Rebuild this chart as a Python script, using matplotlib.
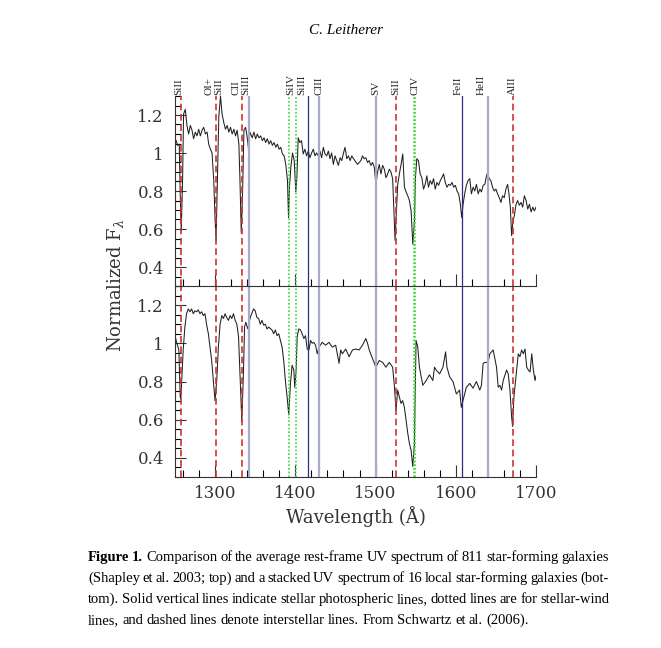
import matplotlib
matplotlib.use("Agg")
import matplotlib.pyplot as plt
from matplotlib.ticker import MultipleLocator, FuncFormatter
from matplotlib.transforms import blended_transform_factory

# --- average spectrum of 811 star-forming galaxies (top panel) ---
wave_top = [1250, 1251.5, 1253.2, 1255.3, 1256.5, 1257.8, 1259.5, 1260.7, 1262.8, 1264.9,
            1267, 1269.1, 1271.2, 1273.2, 1275.3, 1277.4, 1279.5, 1281.6, 1283.7, 1285.8,
            1287.9, 1290, 1292, 1294.1, 1296.2, 1298.3, 1300, 1301.2, 1302.9, 1304.6,
            1306.7, 1308.7, 1310.8, 1312.9, 1315, 1317.1, 1319.2, 1321.3, 1323.4, 1325.5,
            1327.5, 1329.6, 1330.9, 1332.6, 1334.2, 1335.9, 1338, 1340.1, 1341.7, 1343.4,
            1346.3, 1348.4, 1350.5, 1352.6, 1354.7, 1356.8, 1358.9, 1361, 1363, 1365.1,
            1367.2, 1369.3, 1371.4, 1373.5, 1375.6, 1377.7, 1379.8, 1381.8, 1383.9, 1386,
            1388.1, 1390.2, 1391.5, 1392.7, 1394.4, 1396.5, 1398.6, 1400.6, 1401.9, 1403.6,
            1405.7, 1407.7, 1409.8, 1411.9, 1414, 1416.1, 1418.2, 1420.3, 1422.4, 1424.5,
            1426.5, 1428.6, 1430.7, 1432.8, 1434.9, 1437, 1439.1, 1441.2, 1443.2, 1445.3,
            1447.4, 1449.5, 1451.6, 1453.7, 1455.8, 1457.9, 1460, 1462, 1464.1, 1466.2,
            1468.3, 1470.4, 1472.5, 1477.5, 1481.7, 1483.7, 1485.8, 1487.9, 1490, 1492.1,
            1494.2, 1496.3, 1498.4, 1500.5, 1502.5, 1504.6, 1506.7, 1508.8, 1510.9, 1513,
            1515.1, 1517.2, 1519.2, 1521.3, 1522.6, 1524.3, 1525.9, 1527.6, 1529.7, 1531.8,
            1533.9, 1536, 1538.1, 1540.1, 1542.2, 1544.3, 1546.4, 1548.5, 1549.7, 1551.4,
            1553.5, 1555.6, 1557.7, 1559.8, 1561.9, 1563.9, 1566, 1568.1, 1570.2, 1572.3,
            1574.4, 1576.5, 1578.6, 1580.7, 1582.7, 1584.8, 1586.9, 1589, 1591.1, 1593.2,
            1595.3, 1597.4, 1599.5, 1601.5, 1603.6, 1605.7, 1607.4, 1609.1, 1611.1, 1613.2,
            1615.3, 1617.4, 1619.5, 1621.6, 1623.7, 1625.8, 1627.9, 1630, 1632, 1634.1,
            1636.2, 1638.3, 1639.6, 1641.6, 1643.7, 1645.8, 1647.9, 1650, 1652.1, 1654.2,
            1656.3, 1658.3, 1660.4, 1662.5, 1664.6, 1666.3, 1668, 1669.6, 1671.3, 1673,
            1675.1, 1677.1, 1679.2, 1681.3, 1683.4, 1685.5, 1687.6, 1689.7, 1691.8, 1693.9,
            1696, 1698, 1700]
flux_top = [1.05, 1.065, 1.04, 1.047, 0.78, 0.59, 0.87, 1.205, 1.23, 1.145,
            1.10, 1.145, 1.12, 1.075, 1.11, 1.09, 1.125, 1.09, 1.12, 1.135,
            1.10, 1.11, 1.047, 1.02, 1.00, 0.855, 0.645, 0.54, 0.87, 1.19,
            1.30, 1.205, 1.16, 1.125, 1.145, 1.11, 1.135, 1.10, 1.125, 1.09,
            1.12, 1.047, 0.87, 0.58, 0.785, 1.12, 1.135, 1.08, 1.02, 1.11,
            1.08, 1.11, 1.075, 1.10, 1.08, 1.09, 1.065, 1.08, 1.055, 1.075,
            1.047, 1.065, 1.04, 1.055, 1.03, 1.047, 1.02, 1.03, 0.995, 0.985,
            0.94, 0.855, 0.66, 0.82, 0.925, 1.00, 0.96, 0.795, 0.87, 1.08,
            1.055, 1.065, 0.995, 1.02, 0.985, 1.01, 0.975, 1.00, 1.02, 0.985,
            1.00, 0.985, 1.01, 0.975, 1.03, 0.995, 0.985, 1.01, 0.97, 1.00,
            0.94, 0.985, 0.96, 0.935, 0.975, 0.96, 1.00, 1.03, 0.97, 0.985,
            0.96, 0.985, 0.97, 0.94, 0.96, 0.985, 0.97, 0.975, 0.95, 0.96,
            0.935, 0.95, 0.925, 0.835, 0.90, 0.94, 0.89, 0.935, 0.915, 0.87,
            0.89, 0.915, 0.90, 0.865, 0.73, 0.54, 0.68, 0.835, 0.89, 0.94,
            0.995, 0.82, 0.795, 0.775, 0.75, 0.695, 0.52, 0.645, 0.87, 0.97,
            0.96, 0.89, 0.87, 0.81, 0.835, 0.88, 0.82, 0.855, 0.835, 0.865,
            0.81, 0.845, 0.83, 0.855, 0.87, 0.89, 0.845, 0.82, 0.835, 0.83,
            0.845, 0.82, 0.83, 0.80, 0.785, 0.73, 0.66, 0.73, 0.785, 0.83,
            0.855, 0.865, 0.785, 0.82, 0.80, 0.835, 0.785, 0.81, 0.795, 0.83,
            0.835, 0.88, 0.895, 0.865, 0.855, 0.82, 0.80, 0.81, 0.785, 0.765,
            0.74, 0.775, 0.765, 0.81, 0.835, 0.785, 0.715, 0.565, 0.645, 0.67,
            0.73, 0.75, 0.725, 0.74, 0.715, 0.775, 0.75, 0.705, 0.73, 0.69,
            0.715, 0.695, 0.715]

# --- stacked spectrum of 16 local star-forming galaxies (bottom panel) ---
wave_bot = [1250, 1252, 1254.8, 1256.5, 1257.3, 1260.2, 1262.3, 1264.4, 1266.5, 1268.6,
            1270.7, 1272.8, 1274.8, 1276.9, 1279, 1281.1, 1283.2, 1285.3, 1287.4, 1289.5,
            1291.6, 1295.7, 1297.8, 1299.9, 1302, 1304.1, 1306.2, 1308.3, 1310.4, 1312.4,
            1314.5, 1316.6, 1318.7, 1320.8, 1322.9, 1325, 1327.1, 1329.2, 1331.2, 1333.3,
            1335.4, 1336.7, 1338.3, 1340.8, 1343.8, 1347.9, 1350, 1352.1, 1354.2, 1356.3,
            1358.4, 1360.5, 1362.6, 1364.7, 1366.7, 1370.9, 1373, 1375.1, 1377.2, 1379.3,
            1381.4, 1383.5, 1385.5, 1387.6, 1389.7, 1391.8, 1393.9, 1396, 1398.1, 1399.3,
            1401, 1402.3, 1404.3, 1406.4, 1408.5, 1410.6, 1412.7, 1414.8, 1416.9, 1419,
            1421, 1423.1, 1425.2, 1427.3, 1429.4, 1433.6, 1437.8, 1441.9, 1446.1, 1450.3,
            1454.5, 1456.6, 1458.6, 1462.8, 1467, 1471.2, 1475.4, 1479.5, 1483.7, 1487.9,
            1490, 1492.1, 1496.2, 1500.4, 1504.6, 1508.8, 1512.9, 1517.1, 1521.3, 1523.4,
            1525.5, 1527.6, 1529.7, 1531.7, 1533.8, 1535.9, 1538, 1540.1, 1542.2, 1544.3,
            1546.4, 1548.4, 1550.5, 1552.6, 1554.7, 1558.9, 1563.1, 1567.2, 1571.4, 1573.5,
            1575.6, 1579.8, 1584, 1587.3, 1589, 1592.3, 1596.5, 1600.7, 1604.8, 1606.9,
            1609, 1613.2, 1617.4, 1621.5, 1625.7, 1629.9, 1632, 1634.1, 1636.2, 1640.3,
            1642.4, 1646.6, 1650.8, 1652.9, 1655, 1657.1, 1659.1, 1663.3, 1665.4, 1667.5,
            1669.6, 1670.8, 1672.5, 1675.9, 1677.9, 1680, 1682.1, 1684.2, 1686.3, 1688.4,
            1690.5, 1692.6, 1694.7, 1696.7, 1698.8, 1700]
flux_bot = [1.04, 1.005, 0.965, 0.72, 0.71, 0.965, 1.085, 1.155, 1.18, 1.165,
            1.18, 1.155, 1.17, 1.165, 1.175, 1.155, 1.165, 1.145, 1.155, 1.095,
            1.05, 0.91, 0.805, 0.70, 0.805, 0.98, 1.10, 1.145, 1.13, 1.155,
            1.135, 1.12, 1.145, 1.13, 1.155, 1.12, 1.10, 1.035, 0.825, 0.59,
            0.86, 1.085, 1.11, 1.075, 1.135, 1.18, 1.17, 1.135, 1.13, 1.10,
            1.12, 1.095, 1.10, 1.075, 1.085, 1.07, 1.05, 1.07, 1.04, 1.05,
            1.015, 0.98, 0.91, 0.805, 0.72, 0.625, 0.79, 0.885, 0.86, 0.77,
            0.86, 1.035, 1.075, 1.07, 1.05, 1.025, 1.04, 0.97, 0.965, 1.015,
            1.00, 1.005, 0.99, 0.945, 0.98, 1.005, 0.99, 1.005, 0.98, 0.99,
            0.895, 0.965, 0.945, 0.97, 0.93, 0.965, 0.97, 0.965, 0.99, 1.025,
            1.00, 0.965, 0.92, 0.875, 0.91, 0.90, 0.875, 0.90, 0.875, 0.78,
            0.65, 0.755, 0.72, 0.685, 0.70, 0.665, 0.60, 0.53, 0.475, 0.44,
            0.355, 0.475, 1.015, 0.98, 0.875, 0.78, 0.805, 0.835, 0.805, 0.875,
            0.86, 0.84, 0.875, 0.955, 0.875, 0.825, 0.80, 0.735, 0.755, 0.665,
            0.70, 0.77, 0.79, 0.765, 0.80, 0.755, 0.78, 0.895, 0.90, 0.90,
            0.945, 0.965, 0.875, 0.77, 0.78, 0.755, 0.805, 0.86, 0.84, 0.755,
            0.615, 0.565, 0.72, 0.86, 0.945, 0.93, 0.965, 0.945, 0.97, 0.875,
            0.86, 0.85, 0.945, 0.86, 0.805, 0.83]

# --- line identifications (Angstrom) ---
interstellar_lines = [1258, 1301, 1333.5, 1525.5, 1671]
wind_lines = [1392, 1400.5, 1547.5, 1549.5]
phot_lines_broad = [1342, 1429, 1500, 1640]
phot_lines_thin = [1416, 1608]

label_names = ["SiII", "OI+", "SiII", "CII", "SiIII", "SiIV", "SiIII", "CIII",
               "SV", "SiII", "CIV", "FeII", "HeII", "AlII"]
label_lines = [1258, 1301, 1301, 1333.5, 1342, 1396, 1416, 1429,
               1500, 1525.5, 1548.5, 1608, 1640, 1671]

caption_lines = [
    [("Figure", "bold"), ("1.", "bold"), ("Comparison", "normal"), ("of", "normal"), ("the", "normal"),
     ("average", "normal"), ("rest-frame", "normal"), ("UV", "normal"), ("spectrum", "normal"),
     ("of", "normal"), ("811", "normal"), ("star-forming", "normal"), ("galaxies", "normal")],
    "(Shapley et al.  2003; top) and a stacked UV spectrum of 16 local star-forming galaxies (bot-",
    "tom).  Solid vertical lines indicate stellar photospheric lines, dotted lines are for stellar-wind",
    "lines, and dashed lines denote interstellar lines. From Schwartz et al. (2006).",
]

W, H = 661, 648
plt.rcParams["font.family"] = "DejaVu Serif"
plt.rcParams["mathtext.fontset"] = "dejavuserif"

fig = plt.figure(figsize=(W / 100, H / 100), dpi=100)
ax_bot = fig.add_axes([175 / W, 1 - 477 / H, 361 / W, 191 / H])
ax_top = fig.add_axes([175 / W, 1 - 286 / H, 361 / W, 190 / H])
ax_top.patch.set_alpha(0)

# label shift (Angstrom) so the ids sit like in the paper
label_shift = [-3, -8.5, 4, -7.5, -4, -2, -7.5, 0, 0, 0, 1, -5, -8, -1]

for ax, wave, flux in [(ax_top, wave_top, flux_top), (ax_bot, wave_bot, flux_bot)]:
    ax.plot(wave, flux, color="#202020", lw=0.75, zorder=2)
    for w in phot_lines_broad:
        ax.axvline(w, color="#a9a9cc", lw=1.6, zorder=3)
    for w in phot_lines_thin:
        ax.axvline(w, color="#2e2e80", lw=0.9, zorder=3)
    for w in wind_lines:
        ax.axvline(w, color="#3fd43f", lw=1.2, ls=(0, (1, 1.2)), zorder=3)
    for w in interstellar_lines:
        ax.axvline(w, color="#cc3333", lw=1.2, ls=(0, (4, 2.2)), zorder=3)

    ax.set_xlim(1250, 1700)
    ax.set_ylim(0.3, 1.3)
    ax.xaxis.set_major_locator(MultipleLocator(100))
    ax.xaxis.set_minor_locator(MultipleLocator(20))
    ax.yaxis.set_major_locator(MultipleLocator(0.2))
    ax.yaxis.set_minor_locator(MultipleLocator(0.05))
    ax.yaxis.set_major_formatter(FuncFormatter(lambda v, p: "%g" % round(v, 2)))
    ax.tick_params(axis="x", which="major", direction="in", length=9, width=0.8,
                   top=False, labelsize=12, pad=6, colors="#333333")
    ax.tick_params(axis="x", which="minor", direction="in", length=5, width=0.8, top=False)
    ax.tick_params(axis="y", which="major", direction="in", length=8, width=0.8,
                   right=False, labelsize=12, pad=8, colors="#333333")
    ax.tick_params(axis="y", which="minor", direction="in", length=4.5, width=0.8, right=False)
    for side in ["top", "right"]:
        ax.spines[side].set_visible(False)
    for side in ["left", "bottom"]:
        ax.spines[side].set_linewidth(0.8)
        ax.spines[side].set_color("#333333")

ax_top.tick_params(axis="x", labelbottom=False)
ax_bot.set_xlabel("Wavelength (Å)", fontsize=13, color="#333333", labelpad=3)
fig.text(115 / W, 1 - 285 / H, r"Normalized F$_\lambda$", rotation=90, fontsize=13,
         ha="center", va="center", color="#333333")

# line ids above the upper panel
trans = blended_transform_factory(ax_top.transData, ax_top.transAxes)
for name, w, dw in zip(label_names, label_lines, label_shift):
    ax_top.text(w + dw, 1.005, name, transform=trans, rotation=90, rotation_mode="anchor",
                ha="left", va="center", fontsize=8, family="Liberation Serif",
                color="#222222", clip_on=False)

# running head
fig.text(346 / W, 1 - 31 / H, "C. Leitherer", fontsize=11, style="italic",
         family="Liberation Serif", ha="center", va="center")

# justified caption
renderer = fig.canvas.get_renderer()
x_left, x_right = 88, 609
baselines = [561, 582, 603, 624]
for i, line in enumerate(caption_lines):
    if isinstance(line, str):
        words = [(wd, "normal") for wd in line.split()]
    else:
        words = line
    y = 1 - baselines[i] / H
    texts = [fig.text(0, y, wd, fontsize=10.5, fontweight=wt, family="Liberation Serif",
                      va="baseline", ha="left") for wd, wt in words]
    widths = [t.get_window_extent(renderer).width for t in texts]
    if i < len(caption_lines) - 1:
        gap = (x_right - x_left - sum(widths)) / (len(texts) - 1)
    else:
        gap = 3.3
    x = x_left
    for t, wdt in zip(texts, widths):
        t.set_x(x / W)
        x += wdt + gap

fig.savefig("out.png", dpi=100)
